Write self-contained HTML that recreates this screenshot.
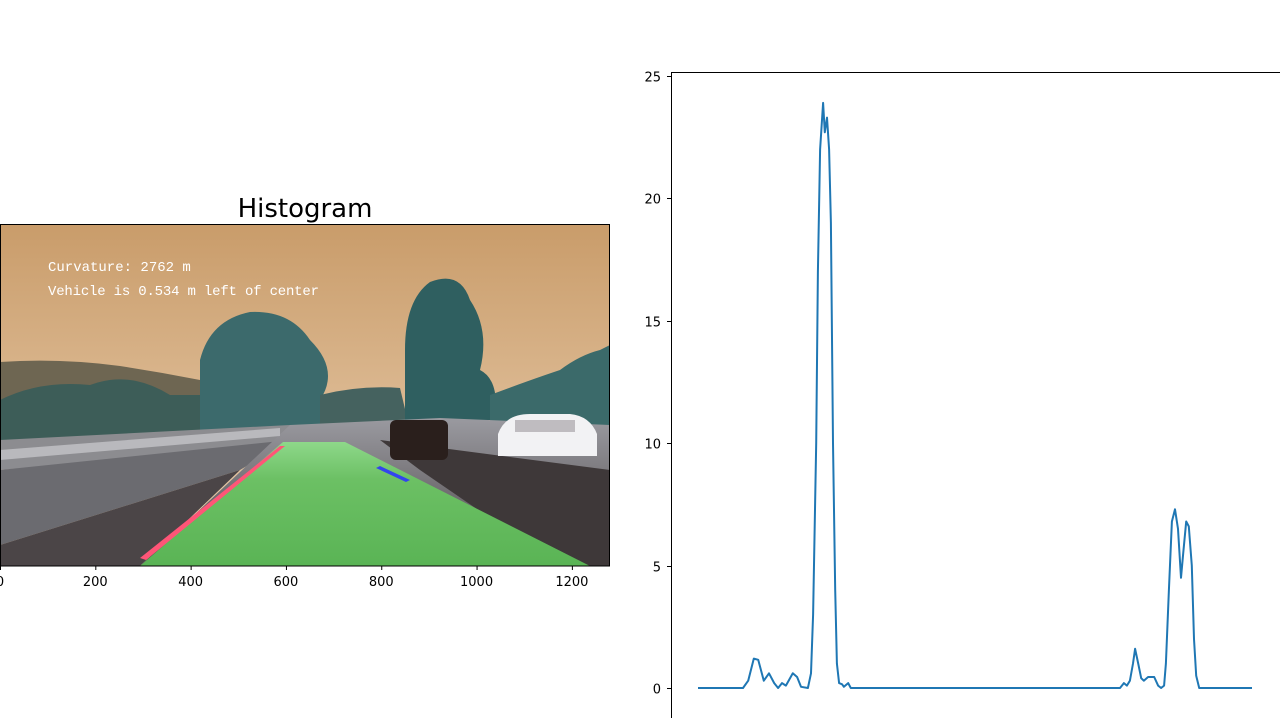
<!DOCTYPE html>
<html><head><meta charset="utf-8"><style>
html,body{margin:0;padding:0;background:#fff;width:1280px;height:718px;overflow:hidden;font-family:"DejaVu Sans","Liberation Sans",sans-serif}
svg{position:absolute;left:0;top:0}
</style></head><body>
<svg width="1280" height="718" viewBox="0 0 1280 718">
<defs>
<linearGradient id="sky" x1="0" y1="0" x2="0" y2="1"><stop offset="0" stop-color="#c99c6a"/><stop offset="1" stop-color="#ecd2b4"/></linearGradient>
<linearGradient id="road" x1="0" y1="0" x2="0" y2="1"><stop offset="0" stop-color="#9a9aa0"/><stop offset="1" stop-color="#4a4446"/></linearGradient>
<linearGradient id="lane" x1="0" y1="0" x2="0" y2="1"><stop offset="0" stop-color="#8ed88a"/><stop offset="0.3" stop-color="#6cc064"/><stop offset="1" stop-color="#5ab455"/></linearGradient>
<clipPath id="imgclip"><rect x="0" y="224" width="610" height="342"/></clipPath>
</defs>
<text x="305" y="217" font-size="26" text-anchor="middle" fill="#000">Histogram</text>
<g clip-path="url(#imgclip)">
<rect x="0" y="224" width="610" height="342" fill="url(#sky)"/>
<path d="M0 362 Q60 358 120 366 Q160 372 200 380 L200 420 L0 420Z" fill="#6e6652"/>
<path d="M0 400 Q40 380 90 385 Q130 370 170 395 L200 395 L200 440 L0 440Z" fill="#3d5d58"/>
<path d="M200 360 Q210 320 250 312 Q290 310 310 340 Q340 370 320 400 L330 430 L200 430Z" fill="#3c6a6c"/>
<path d="M320 395 Q360 385 400 388 L410 430 L320 430Z" fill="#45625f"/>
<path d="M405 350 Q405 300 430 282 Q460 270 470 300 Q490 330 480 370 Q500 380 495 420 L405 420Z" fill="#2f5f60"/>
<path d="M490 395 Q530 380 560 370 Q580 355 600 350 L610 345 L610 430 L490 430Z" fill="#3b6a6a"/>
<path d="M0 440 L290 425 L290 445 L0 470Z" fill="#8c8c90"/>
<path d="M0 470 L290 440 L240 470 L0 545Z" fill="#6b6b70"/>
<path d="M0 545 L240 470 L140 566 L0 566Z" fill="#4b4547"/>
<path d="M290 425 L440 418 L610 425 L610 566 L140 566Z" fill="url(#road)"/>
<path d="M380 440 L610 470 L610 566 L560 566 L420 470Z" fill="#3e3839"/>
<path d="M283 442 L345 442 L590 566 L140 566 Z" fill="url(#lane)"/>
<path d="M280 446 L140 558 L146 560 L285 446Z" fill="#ff5577"/>
<path d="M380 466 L410 480 L406 482 L376 468Z" fill="#3344ee"/>
<rect x="390" y="420" width="58" height="40" rx="6" fill="#2a1f1c"/>
<path d="M498 434 Q505 414 530 414 L570 414 Q590 416 597 434 L597 456 L498 456Z" fill="#f2f2f4"/>
<rect x="515" y="420" width="60" height="12" fill="#bfbcc0"/>
<path d="M0 450 L280 428 L280 436 L0 460Z" fill="#b9b9bd"/>
<text x="48" y="271" font-family="Liberation Mono,monospace" font-size="14" fill="#fff">Curvature: 2762 m</text>
<text x="48" y="295" font-family="Liberation Mono,monospace" font-size="14" textLength="271" fill="#fff">Vehicle is 0.534 m left of center</text>
</g>
<rect x="0.5" y="224.5" width="609" height="341.5" fill="none" stroke="#000" stroke-width="1"/>
<g id="lx"></g>
<line x1="671.5" y1="72" x2="671.5" y2="718" stroke="#000"/>
<line x1="671" y1="72.5" x2="1280" y2="72.5" stroke="#000"/>
<g id="ry"></g>
<path id="hist" fill="none" stroke="#1f77b4" stroke-width="2" stroke-linejoin="round"/>
</svg>
<script>
const leftTicks=[0,200,400,600,800,1000,1200];
const yTicks=[0,5,10,15,20,25];
const histX=[0,104,116,129,139,152,164,176,185,194,203,219,229,238,254,261,266,273,277,282,289,293,298,303,307,312,317,321,326,333,337,347,353,975,984,991,998,1005,1010,1017,1024,1030,1040,1054,1063,1070,1077,1081,1088,1095,1102,1109,1116,1121,1128,1134,1141,1146,1151,1158,1280];
const histY=[0,0,0.3,1.2,1.15,0.3,0.6,0.2,0,0.2,0.1,0.6,0.45,0.05,0,0.6,3,10,17,22,23.9,22.7,23.3,22,19,10,4,1,0.2,0.15,0.05,0.2,0,0,0.2,0.1,0.3,1,1.6,1,0.4,0.3,0.45,0.45,0.1,0,0.1,1,4,6.8,7.3,6.5,4.5,5.5,6.8,6.6,5,2,0.5,0,0];
const NS='http://www.w3.org/2000/svg';
const lxs=v=>v*610/1280;
const rxs=v=>698+v*554/1280;
const rys=v=>688-v*24.48;
const lx=document.getElementById('lx');
leftTicks.forEach(t=>{
 const l=document.createElementNS(NS,'line');
 l.setAttribute('x1',lxs(t)+0.5);l.setAttribute('x2',lxs(t)+0.5);l.setAttribute('y1',566);l.setAttribute('y2',570);l.setAttribute('stroke','#000');
 
 
 lx.appendChild(l);
 const s=document.createElementNS(NS,'text');
 s.setAttribute('x',lxs(t));s.setAttribute('y',586);s.setAttribute('font-size',13);s.setAttribute('text-anchor','middle');
 s.textContent=t;
 
 
 lx.appendChild(s);
});
const ry=document.getElementById('ry');
yTicks.forEach(t=>{
 const y=Math.round(rys(t))+0.5;
 const l=document.createElementNS(NS,'line');
 l.setAttribute('x1',667);l.setAttribute('x2',671);l.setAttribute('y1',y);l.setAttribute('y2',y);l.setAttribute('stroke','#000');
 
 
 ry.appendChild(l);
 const s=document.createElementNS(NS,'text');
 s.setAttribute('x',661);s.setAttribute('y',y+5);s.setAttribute('font-size',13);s.setAttribute('text-anchor','end');
 s.textContent=t;
 
 
 ry.appendChild(s);
});
const n=Math.min(histX.length,histY.length);
let d='';
for(let i=0;i<n;i++){d+=(i?'L':'M')+rxs(histX[i]).toFixed(1)+' '+rys(histY[i]).toFixed(1)+' ';}
document.getElementById('hist').setAttribute('d',d);
</script>
</body></html>
